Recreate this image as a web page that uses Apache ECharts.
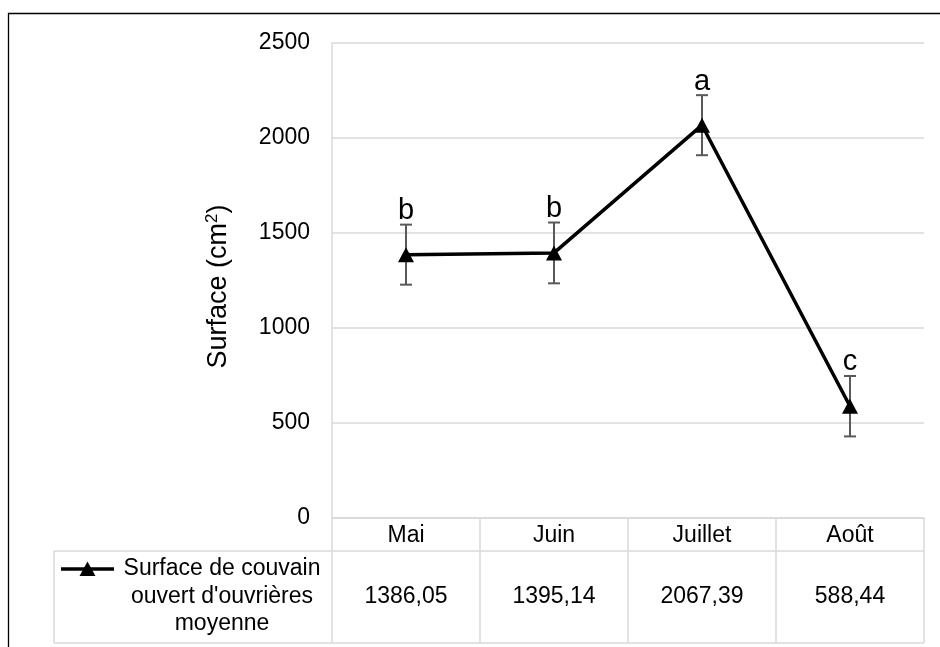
<!DOCTYPE html>
<html>
<head>
<meta charset="utf-8">
<script src="https://cdn.jsdelivr.net/npm/echarts@6/dist/echarts.min.js"></script>
<style>
  html, body { margin: 0; padding: 0; background: #fff; }
  #box { width: 940px; height: 647px; }
</style>
</head>
<body>
<div id="box"></div>
<script>
var months = ['Mai', 'Juin', 'Juillet', 'Août'];
var means = [1386.05, 1395.14, 2067.39, 588.44];
var errors = [158, 160, 158, 159];
var letters = ['b', 'b', 'a', 'c'];
var yTicks = [0, 500, 1000, 1500, 2000, 2500];
var seriesName = 'Surface de couvain\nouvert d\'ouvrières\nmoyenne';

var font = '"Liberation Sans", Arial, sans-serif';
var gridColor = '#d9d9d9';

// valeurs du tableau, virgule decimale
var tableValues = means.map(function (v) {
    return v.toFixed(2).replace('.', ',');
});

var myChart = echarts.init(document.getElementById('box'), null, {renderer: 'canvas'});

function renderErr(params, api) {
    var i = api.value(0);
    var v = api.value(1);
    var e = api.value(2);
    var top = api.coord([i, v + e]);
    var bot = api.coord([i, v - e]);
    var hw = 6;
    var st = {stroke: '#595959', lineWidth: 2};
    return {
        type: 'group',
        children: [
            {type: 'line', shape: {x1: top[0], y1: top[1], x2: bot[0], y2: bot[1]}, style: st},
            {type: 'line', shape: {x1: top[0] - hw, y1: top[1], x2: top[0] + hw, y2: top[1]}, style: st},
            {type: 'line', shape: {x1: bot[0] - hw, y1: bot[1], x2: bot[0] + hw, y2: bot[1]}, style: st},
            {
                type: 'text',
                x: top[0],
                y: top[1] + 1,
                style: {
                    text: letters[params.dataIndex],
                    font: '29px ' + font,
                    fill: '#000',
                    align: 'center',
                    verticalAlign: 'bottom'
                }
            }
        ]
    };
}

var errData = means.map(function (v, i) {
    return [i, v, errors[i]];
});

option = {
    backgroundColor: '#fff',
    animation: false,
    textStyle: {fontFamily: font},
    grid: {
        left: 332,
        right: 16,
        top: 43,
        bottom: 129,
        containLabel: false
    },
    xAxis: [
        {
            type: 'category',
            position: 'bottom',
            data: months,
            boundaryGap: true,
            axisLine: {lineStyle: {color: gridColor, width: 1.5}},
            axisTick: {
                show: true,
                interval: 0,
                length: 125,
                lineStyle: {color: gridColor, width: 1.5}
            },
            axisLabel: {
                interval: 0,
                margin: 6,
                color: '#000',
                fontSize: 23,
                fontFamily: font
            }
        },
        {
            type: 'category',
            position: 'bottom',
            data: tableValues,
            boundaryGap: true,
            axisLine: {show: false},
            axisTick: {show: false},
            axisLabel: {
                interval: 0,
                margin: 67,
                color: '#000',
                fontSize: 23,
                fontFamily: font
            }
        }
    ],
    yAxis: {
        type: 'value',
        min: yTicks[0],
        max: yTicks[yTicks.length - 1],
        interval: 500,
        name: 'Surface (cm{sup|2})',
        nameLocation: 'middle',
        nameGap: 99,
        nameRotate: 90,
        nameTextStyle: {
            fontSize: 27,
            color: '#000',
            fontFamily: font,
            padding: [0, 12, 0, 0],
            rich: {
                sup: {fontSize: 17, verticalAlign: 'top', padding: [0, 0, 12, 0], color: '#000', fontFamily: font}
            }
        },
        axisLine: {show: true, lineStyle: {color: gridColor, width: 1.5}},
        axisTick: {show: false},
        axisLabel: {
            margin: 22,
            color: '#000',
            fontSize: 23,
            fontFamily: font,
            formatter: function (v) { return String(v); }
        },
        splitLine: {lineStyle: {color: gridColor, width: 1.5}}
    },
    graphic: [
        // cadre exterieur
        {type: 'rect', shape: {x: 8.5, y: 13.5, width: 960, height: 680}, style: {fill: null, stroke: '#000', lineWidth: 1.3}, silent: true},
        // bordures du tableau
        {type: 'line', shape: {x1: 54, y1: 551, x2: 924, y2: 551}, style: {stroke: gridColor, lineWidth: 1.5}},
        {type: 'line', shape: {x1: 54, y1: 643, x2: 924, y2: 643}, style: {stroke: gridColor, lineWidth: 1.5}},
        {type: 'line', shape: {x1: 54, y1: 551, x2: 54, y2: 643}, style: {stroke: gridColor, lineWidth: 1.5}},
        // cle de legende
        {type: 'line', shape: {x1: 61, y1: 569, x2: 114, y2: 569}, style: {stroke: '#000', lineWidth: 3.5}},
        {type: 'polygon', shape: {points: [[87.5, 561.5], [95.5, 576], [79.5, 576]]}, style: {fill: '#000'}},
        {
            type: 'text',
            x: 222,
            y: 555,
            style: {
                text: seriesName,
                font: '23px ' + font,
                fill: '#000',
                align: 'center',
                verticalAlign: 'top',
                lineHeight: 27.5
            }
        }
    ],
    series: [
        {
            type: 'custom',
            name: 'err',
            renderItem: renderErr,
            data: errData,
            z: 1,
            silent: true
        },
        {
            name: seriesName,
            type: 'line',
            data: means,
            z: 3,
            symbol: 'triangle',
            symbolSize: [16, 15],
            lineStyle: {color: '#000', width: 3.5},
            itemStyle: {color: '#000'}
        }
    ]
};

myChart.setOption(option);
</script>
</body>
</html>
